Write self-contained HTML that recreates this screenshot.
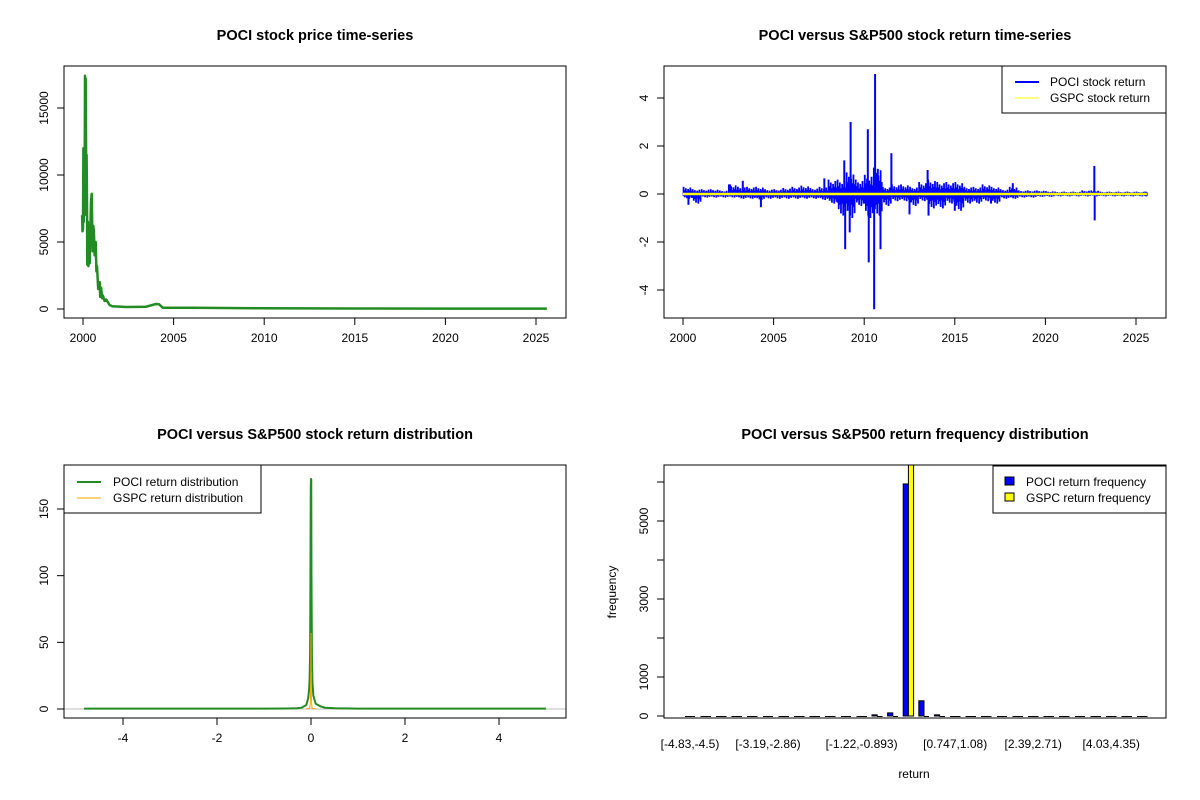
<!DOCTYPE html>
<html><head><meta charset="utf-8"><style>
body{margin:0;background:#fff}
svg{display:block}
text{font-family:"Liberation Sans",Arial,sans-serif;fill:#000}
.t{font-size:14.5px;font-weight:bold}
.a{font-size:12px}
</style></head><body>
<svg id="svg" width="1200" height="800" viewBox="0 0 1200 800" xmlns="http://www.w3.org/2000/svg">
<defs>
<clipPath id="c1"><rect x="64" y="66" width="502" height="252"/></clipPath>
<clipPath id="c2"><rect x="664" y="66" width="502" height="252"/></clipPath>
<clipPath id="c3"><rect x="64" y="465" width="502" height="253"/></clipPath>
<clipPath id="c4"><rect x="664" y="465" width="502" height="253"/></clipPath>
</defs>
<g id="p1"></g>
<g id="p2"></g>
<g id="p3"></g>
<g id="p4"></g>
</svg>
<script>
// Panel 1 data
const priceYears=[1999.95,1999.97,2000.0,2000.02,2000.04,2000.07,2000.09,2000.11,2000.13,2000.15,2000.18,2000.2,2000.22,2000.24,2000.27,2000.3,2000.33,2000.37,2000.4,2000.44,2000.48,2000.53,2000.57,2000.6,2000.64,2000.7,2000.74,2000.77,2000.84,2000.92,2000.95,2001.0,2001.06,2001.1,2001.19,2001.28,2001.47,2001.61,2002.38,2003.48,2004.03,2004.2,2004.4,2006.04,2009.7,2015,2020,2025.6];
const priceVals=[7000,5800,6000,12000,6500,11500,7000,17400,9000,17200,8700,11500,8000,3300,6500,3200,6000,3400,5500,8000,8600,4300,6200,5800,4000,5000,2800,3200,1500,2000,900,1600,800,1000,600,700,300,200,150,170,370,350,100,90,50,40,30,30];
const priceTicksX=[2000,2005,2010,2015,2020,2025];
const priceTicksY=[0,5000,10000,15000];
// Panel 2 data
const retYears=[2000,2000.5,2001,2001.5,2002,2002.5,2003,2003.5,2004,2004.5,2005,2005.5,2006,2006.5,2007,2007.5,2008,2008.5,2009,2009.5,2010,2010.5,2011,2011.5,2012,2012.5,2013,2013.5,2014,2014.5,2015,2015.5,2016,2016.5,2017,2017.5,2018,2018.5,2019,2019.5,2020,2020.5,2021,2021.5,2022,2022.5,2023,2023.5,2024,2024.5,2025,2025.5];
const retPos=[0.3,0.2,0.2,0.2,0.15,0.4,0.3,0.3,0.3,0.2,0.2,0.25,0.3,0.35,0.25,0.3,0.6,0.6,0.9,0.6,0.8,1.1,0.3,0.4,0.4,0.3,0.5,0.6,0.5,0.5,0.5,0.3,0.3,0.4,0.3,0.2,0.3,0.15,0.15,0.15,0.12,0.1,0.1,0.1,0.15,0.15,0.1,0.1,0.1,0.1,0.1,0.1];
const retNeg=[-0.2,-0.4,-0.15,-0.15,-0.15,-0.15,-0.2,-0.2,-0.25,-0.2,-0.2,-0.2,-0.2,-0.2,-0.2,-0.25,-0.4,-0.9,-1.0,-0.5,-1.0,-0.9,-0.5,-0.3,-0.3,-0.5,-0.3,-0.6,-0.6,-0.4,-0.7,-0.4,-0.4,-0.3,-0.4,-0.2,-0.2,-0.15,-0.15,-0.12,-0.12,-0.1,-0.1,-0.1,-0.1,-0.1,-0.1,-0.1,-0.1,-0.1,-0.1,-0.1];
const spikeYears=[2000.3,2002.6,2003.3,2004.3,2007.8,2008.9,2008.95,2009.2,2009.25,2010.2,2010.25,2010.55,2010.6,2010.75,2010.9,2011.5,2012.5,2013.5,2013.55,2015.0,2017.0,2018.2,2022.7,2022.72];
const spikeVals=[-0.45,0.4,0.55,-0.55,0.65,1.4,-2.3,-1.6,3.0,2.7,-2.85,-4.8,5.0,1.05,-2.3,1.7,-0.85,1.0,-0.9,-0.7,-0.4,0.45,1.17,-1.1];
const gspcYears=[2000,2008.7,2009.2,2025.6];
const gspcVals=[0.0,0.0,0.0,0.0];
const retTicksY=[-4,-2,0,2,4];
// Panel 3 data
const poDensX=[-4.83,-1,-0.5,-0.3,-0.2,-0.1,-0.06,-0.04,-0.03,-0.02,-0.015,-0.01,-0.005,0,0.005,0.01,0.02,0.03,0.05,0.1,0.2,0.3,0.5,1,5];
const poDensY=[0.3,0.3,0.4,0.5,1,3,8,15,22,40,70,120,165,173,172,100,40,20,10,4,2,1,0.5,0.3,0.3];
const gsDensX=[-0.1,-0.03,-0.015,-0.008,-0.003,0,0.003,0.006,0.01,0.02,0.1];
const gsDensY=[0,0.5,4,15,30,57,25,28,8,0.5,0];
const densTicksX=[-4,-2,0,2,4];
const densTicksY=[0,50,100,150];
// Panel 4 data
const binLabels=["[-4.83,-4.5)","[-4.5,-4.17)","[-4.17,-3.84)","[-3.84,-3.52)","[-3.52,-3.19)","[-3.19,-2.86)","[-2.86,-2.53)","[-2.53,-2.2)","[-2.2,-1.88)","[-1.88,-1.55)","[-1.55,-1.22)","[-1.22,-0.893)","[-0.893,-0.565)","[-0.565,-0.237)","[-0.237,0.0913)","[0.0913,0.419)","[0.419,0.747)","[0.747,1.08)","[1.08,1.4)","[1.4,1.73)","[1.73,2.06)","[2.06,2.39)","[2.39,2.71)","[2.71,3.04)","[3.04,3.37)","[3.37,3.7)","[3.7,4.03)","[4.03,4.35)","[4.35,4.68)","[4.68,5.01)"];
const shownLabels=[0,5,11,17,22,27];
const pociFreq=[0,0,0,0,0,0,0,0,0,0,0,0,30,80,5950,390,30,0,0,0,0,0,0,0,0,0,0,0,0,0];
const gspcFreq=[0,0,0,0,0,0,0,0,0,0,0,0,0,0,6500,0,0,0,0,0,0,0,0,0,0,0,0,0,0,0];
const freqTicks=[0,1000,2000,3000,4000,5000,6000];
const freqLabels=["0","1000","","3000","","5000",""];

const NS="http://www.w3.org/2000/svg";
function mk(parent,tag,attrs,txt){const e=document.createElementNS(NS,tag);for(const k in attrs)e.setAttribute(k,attrs[k]);if(txt!==undefined)e.textContent=txt;parent.appendChild(e);return e;}
function lin(d0,d1,r0,r1){return v=>r0+(v-d0)*(r1-r0)/(d1-d0);}

function frame(g,x,y,w,h,title,tx){
  const b=mk(g,'rect',{x:x,y:y,width:w,height:h,fill:'none',stroke:'#000','stroke-width':1});
  
  
  const t=mk(g,'text',{x:tx,y:y-26,'text-anchor':'middle',class:'t'},title);
  
  
}
function xaxis(g,ticks,sx,yb,labels){
  ticks.forEach((v,i)=>{
    const px=sx(v);
    mk(g,'line',{x1:px,x2:px,y1:yb,y2:yb+7,stroke:'#000'});
    const t=mk(g,'text',{x:px,y:yb+24,'text-anchor':'middle',class:'a'},labels?labels[i]:String(v));
    
    
  });
  mk(g,'line',{x1:sx(ticks[0]),x2:sx(ticks[ticks.length-1]),y1:yb,y2:yb,stroke:'#000'});
}
function yaxis(g,ticks,sy,xl,labels){
  ticks.forEach((v,i)=>{
    const py=sy(v);
    mk(g,'line',{x1:xl-7,x2:xl,y1:py,y2:py,stroke:'#000'});
    const lab=labels?labels[i]:String(v);
    if(lab!==""){
      const t=mk(g,'text',{x:xl-16,y:py,'text-anchor':'middle',class:'a',transform:`rotate(-90 ${xl-16} ${py})`},lab);
      
      
    }
  });
  mk(g,'line',{x1:xl,x2:xl,y1:sy(ticks[0]),y2:sy(ticks[ticks.length-1]),stroke:'#000'});
}

// Panel 1
(function(){
  const g=document.getElementById('p1');
  const sx=lin(2000,2025,83,536), sy=lin(0,15000,309,108);
  const pts=priceYears.map((y,i)=>sx(y).toFixed(1)+','+sy(priceVals[i]).toFixed(1)).join(' ');
  const l=mk(g,'polyline',{points:pts,fill:'none',stroke:'#228b22','stroke-width':2.5,'clip-path':'url(#c1)','stroke-linejoin':'round'});
  
  
  frame(g,64,66,502,252,'POCI stock price time-series',315);
  xaxis(g,priceTicksX,sx,318);
  yaxis(g,priceTicksY,sy,64);
})();

// Panel 2
(function(){
  const g=document.getElementById('p2');
  const sx=lin(2000,2025,683,1136), sy=lin(0,2,194,146);
  const cg=mk(g,'g',{'clip-path':'url(#c2)'});
  const comb=[1,0.55,0.8,0.4,0.7,0.5,0.9,0.45];
  retYears.forEach((y,i)=>{
    const span=Math.min(0.5,2025.6-y);
    comb.forEach((f,k)=>{
      const px=sx(y+span*(k+0.5)/comb.length);
      const f2=comb[(k+3)%comb.length];
      const r=mk(cg,'line',{x1:px,x2:px,y1:sy(retPos[i]*f),y2:sy(retNeg[i]*f2),stroke:'#0000ff','stroke-width':1.8});
      
      
    });
  });
  spikeYears.forEach((y,i)=>{
    const v=spikeVals[i];
    const l=mk(cg,'line',{x1:sx(y),x2:sx(y),y1:sy(0),y2:sy(v),stroke:'#0000ff','stroke-width':2});
    
    
  });
  const up=gspcYears.map((y,i)=>sx(y).toFixed(1)+','+sy(gspcVals[i]).toFixed(1)).join(' ');
  const gl=mk(cg,'polyline',{points:up,fill:'none',stroke:'#ffff00','stroke-width':2.5});
  
  
  frame(g,664,66,502,252,'POCI versus S&P500 stock return time-series',915);
  xaxis(g,priceTicksX,sx,318);
  yaxis(g,retTicksY,sy,664);
  const lg=mk(g,'g',{});
  
  
  mk(lg,'rect',{x:1002,y:66,width:164,height:47,fill:'#fff',stroke:'#000'});
  mk(lg,'line',{x1:1015,x2:1039,y1:82,y2:82,stroke:'#0000ff','stroke-width':2});
  mk(lg,'line',{x1:1015,x2:1039,y1:98,y2:98,stroke:'#ffff00','stroke-width':1});
  mk(lg,'text',{x:1050,y:86,class:'a'},'POCI stock return');
  mk(lg,'text',{x:1050,y:102,class:'a'},'GSPC stock return');
})();

// Panel 3
(function(){
  const g=document.getElementById('p3');
  const sx=lin(0,2,311,405), sy=lin(0,150,709,509);
  const cg=mk(g,'g',{'clip-path':'url(#c3)'});
  const gr=mk(cg,'line',{x1:64,x2:566,y1:sy(0),y2:sy(0),stroke:'#bebebe'});
  
  
  const p=mk(cg,'polyline',{points:poDensX.map((x,i)=>sx(x).toFixed(2)+','+sy(poDensY[i]).toFixed(1)).join(' '),fill:'none',stroke:'#228b22','stroke-width':2});
  
  
  const o=mk(cg,'polyline',{points:gsDensX.map((x,i)=>sx(x).toFixed(2)+','+sy(gsDensY[i]).toFixed(1)).join(' '),fill:'none',stroke:'#ffa500','stroke-width':1});
  
  
  frame(g,64,465,502,253,'POCI versus S&P500 stock return distribution',315);
  xaxis(g,densTicksX,sx,718);
  yaxis(g,densTicksY,sy,64);
  const lg=mk(g,'g',{});
  
  
  mk(lg,'rect',{x:64,y:465,width:197,height:48,fill:'#fff',stroke:'#000'});
  mk(lg,'line',{x1:77,x2:101,y1:482,y2:482,stroke:'#228b22','stroke-width':2});
  mk(lg,'line',{x1:77,x2:101,y1:498,y2:498,stroke:'#ffa500','stroke-width':1});
  mk(lg,'text',{x:113,y:486,class:'a'},'POCI return distribution');
  mk(lg,'text',{x:113,y:502,class:'a'},'GSPC return distribution');
})();

// Panel 4
(function(){
  const g=document.getElementById('p4');
  const sy=lin(0,1000,716,677);
  const cx=i=>690+15.6*i, bw=5.2;
  const cg=mk(g,'g',{'clip-path':'url(#c4)'});
  binLabels.forEach((b,i)=>{
    [[pociFreq[i],cx(i)-bw,'#0000ff','poci-freq-bar'],[gspcFreq[i],cx(i),'#ffff00','gspc-freq-bar']].forEach(([v,x,col,nm])=>{
      const y1=sy(v);
      let r;
      if(v>0){
        r=mk(cg,'rect',{x:x,y:y1,width:bw,height:sy(0)-y1,fill:col,stroke:'#000','stroke-width':1});
      } else {
        r=mk(cg,'line',{x1:x,x2:x+bw,y1:sy(0)+0.5,y2:sy(0)+0.5,stroke:'#000','stroke-width':1,'shape-rendering':'crispEdges'});
      }
      
      
    });
  });
  shownLabels.forEach(i=>{
    const t=mk(g,'text',{x:cx(i),y:748,'text-anchor':'middle',class:'a'},binLabels[i]);
    
    
  });
  frame(g,664,465,502,253,'POCI versus S&P500 return frequency distribution',915);
  yaxis(g,freqTicks,sy,664,freqLabels);
  const yl=mk(g,'text',{x:616,y:592,'text-anchor':'middle',class:'a',transform:'rotate(-90 616 592)'},'frequency');
  
  
  const xl=mk(g,'text',{x:914,y:778,'text-anchor':'middle',class:'a'},'return');
  
  
  const lg=mk(g,'g',{});
  
  
  mk(lg,'rect',{x:993,y:466,width:173,height:47,fill:'#fff',stroke:'#000'});
  mk(lg,'rect',{x:1005,y:477,width:9,height:8,fill:'#0000ff',stroke:'#000'});
  mk(lg,'rect',{x:1005,y:493,width:9,height:8,fill:'#ffff00',stroke:'#000'});
  mk(lg,'text',{x:1026,y:486,class:'a'},'POCI return frequency');
  mk(lg,'text',{x:1026,y:502,class:'a'},'GSPC return frequency');
})();
</script>
</body></html>
